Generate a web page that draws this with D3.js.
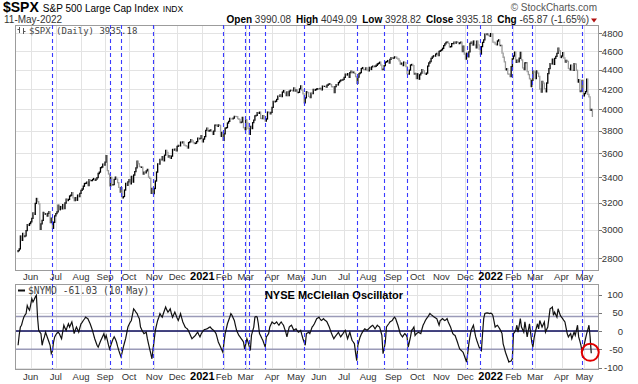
<!DOCTYPE html>
<html>
<head>
<meta charset="utf-8">
<script src="https://cdn.jsdelivr.net/npm/d3@7.9.0/dist/d3.min.js"></script>
<style>
  body { margin: 0; background: #fff; }
  svg { display: block; font-family: "Liberation Sans", Arial, sans-serif; }
</style>
</head>
<body>
<svg id="chart" width="638" height="384"></svg>
<script>
// trading calendar
const firstDay = "2020-05-14";
const lastDay = "2022-05-11";
const holidays = ["2020-05-25", "2020-07-03", "2020-09-07", "2020-11-26", "2020-12-25",
  "2021-01-01", "2021-01-18", "2021-02-15", "2021-04-02", "2021-05-31", "2021-07-05",
  "2021-09-06", "2021-11-25", "2021-12-24", "2022-01-17", "2022-02-21", "2022-04-15"];

// S&P 500 daily closes, one row per month
const spxClose = [
  2852, 2864, 2954, 2923, 2972, 2949, 2955, 2992, 3036, 3030, 3044,
  3056, 3081, 3122, 3112, 3194, 3232, 3207, 3190, 3002, 3041, 3067, 3125, 3113, 3115, 3098, 3118, 3131, 3050, 3084, 3009, 3053, 3100,
  3116, 3130, 3180, 3146, 3170, 3152, 3185, 3155, 3197, 3227, 3216, 3225, 3251, 3257, 3277, 3236, 3216, 3239, 3218, 3258, 3246, 3271,
  3295, 3306, 3328, 3350, 3352, 3360, 3333, 3380, 3373, 3373, 3382, 3390, 3375, 3385, 3397, 3431, 3443, 3479, 3485, 3508, 3500,
  3526, 3580, 3455, 3427, 3331, 3399, 3340, 3341, 3384, 3401, 3385, 3357, 3319, 3282, 3316, 3237, 3247, 3298, 3351, 3336, 3363,
  3381, 3348, 3408, 3361, 3419, 3447, 3477, 3534, 3512, 3489, 3483, 3484, 3427, 3443, 3436, 3453, 3465, 3401, 3391, 3271, 3310, 3270,
  3310, 3370, 3443, 3510, 3509, 3550, 3545, 3573, 3537, 3585, 3627, 3610, 3568, 3582, 3558, 3577, 3635, 3630, 3638, 3622,
  3662, 3669, 3666, 3699, 3692, 3702, 3673, 3668, 3663, 3647, 3695, 3702, 3722, 3709, 3695, 3687, 3690, 3703, 3735, 3727, 3732, 3756,
  3701, 3726, 3748, 3804, 3825, 3799, 3801, 3810, 3795, 3768, 3798, 3852, 3853, 3841, 3855, 3850, 3751, 3787, 3714,
  3774, 3826, 3830, 3872, 3887, 3916, 3911, 3910, 3917, 3934, 3933, 3932, 3914, 3906, 3877, 3881, 3925, 3829, 3811,
  3901, 3871, 3820, 3768, 3842, 3821, 3875, 3899, 3939, 3943, 3969, 3963, 3974, 3915, 3913, 3940, 3911, 3889, 3910, 3975, 3971, 3959, 3973,
  4020, 4078, 4074, 4080, 4097, 4129, 4128, 4142, 4125, 4170, 4185, 4163, 4135, 4173, 4135, 4180, 4188, 4187, 4183, 4211, 4181,
  4193, 4165, 4168, 4202, 4233, 4189, 4152, 4063, 4113, 4174, 4164, 4128, 4116, 4160, 4156, 4197, 4189, 4196, 4201, 4204,
  4202, 4208, 4192, 4230, 4227, 4227, 4220, 4239, 4247, 4255, 4246, 4224, 4222, 4166, 4224, 4246, 4242, 4266, 4281, 4291, 4291, 4298,
  4320, 4352, 4344, 4358, 4320, 4370, 4385, 4370, 4375, 4360, 4327, 4259, 4323, 4359, 4368, 4412, 4422, 4401, 4400, 4419, 4395,
  4387, 4423, 4402, 4429, 4437, 4433, 4436, 4447, 4460, 4468, 4479, 4448, 4400, 4406, 4442, 4480, 4486, 4497, 4470, 4509, 4529, 4523,
  4524, 4537, 4535, 4521, 4514, 4493, 4459, 4469, 4443, 4481, 4474, 4433, 4358, 4354, 4396, 4449, 4455, 4443, 4353, 4360, 4308,
  4357, 4301, 4346, 4364, 4400, 4391, 4361, 4351, 4364, 4438, 4471, 4487, 4520, 4537, 4549, 4545, 4567, 4575, 4551, 4597, 4605,
  4614, 4631, 4661, 4680, 4697, 4702, 4686, 4646, 4650, 4683, 4683, 4701, 4689, 4704, 4698, 4683, 4691, 4701, 4595, 4655, 4567,
  4513, 4577, 4538, 4592, 4687, 4701, 4668, 4712, 4669, 4635, 4710, 4669, 4621, 4568, 4650, 4697, 4726, 4791, 4786, 4793, 4778, 4766,
  4797, 4794, 4701, 4696, 4677, 4670, 4713, 4726, 4660, 4663, 4577, 4533, 4483, 4398, 4410, 4357, 4350, 4327, 4432, 4516,
  4546, 4589, 4477, 4501, 4484, 4522, 4587, 4504, 4419, 4402, 4472, 4476, 4380, 4349, 4305, 4226, 4288, 4385, 4374,
  4306, 4387, 4364, 4329, 4201, 4171, 4278, 4260, 4204, 4173, 4262, 4358, 4412, 4463, 4461, 4512, 4456, 4520, 4543, 4575, 4632, 4602, 4530,
  4546, 4583, 4525, 4481, 4500, 4488, 4413, 4397, 4447, 4393, 4392, 4463, 4460, 4394, 4272, 4297, 4175, 4183, 4288, 4132,
  4155, 4175, 4300, 4147, 4123, 3991, 4001, 3935
];

// NYSE McClellan Oscillator, daily (ends 10 May)
const nymo = [
  -39, -10, 11, 16, 28, 38, 44, 48, 70, 62,
  57, 72, 89, 80, 86, 93, 98, 38, 2, -3,
  -7, -39, -25, -16, -3, -12, -21, -30, -39, -62,
  -55, -30, -16, -10, -6, -3, -7, -14, -21, -2,
  16, 8, 2, 12, 20, 11, 18, 25, 10, -7,
  3, 11, 4, -3, 9, 20, 24, 29, 33, 38,
  36, 34, 27, 20, 11, 2, -10, -21, -30, -39,
  -44, -36, -28, -21, -14, -7, -21, -12, -25, -38,
  -49, -40, -30, -22, -16, -22, -30, -42, -53, -62,
  -71, -58, -44, -32, -21, -5, 11, 18, 24, 29,
  45, 61, 57, 52, 48, 40, 34, 11, 4, -2,
  -7, -5, -3, -21, -35, -49, -62, -76, -49, -22,
  2, 16, 29, 38, 48, 42, 38, 48, 57, 66,
  58, 52, 56, 61, 48, 38, 45, 52, 44, 36,
  29, 38, 48, 36, 25, 18, 11, 8, 6, 0,
  -7, -14, -21, -18, -15, -12, -7, -3, -10, -16,
  -8, -3, 2, 4, 5, 6, 8, 10, 11, 7,
  4, 2, -2, -7, -18, -30, -37, -44, -51, -58,
  -30, -7, 6, 20, 29, 38, 48, 43, 36, 29,
  15, 2, -5, -12, -16, -21, -25, -30, -49, -35,
  -21, -30, -42, -53, -12, 0, 11, 38, 40, 38,
  20, -7, -13, -20, -26, -35, -44, -16, -12, -7,
  11, 18, 25, 22, 20, 22, 25, 20, 16, 21,
  25, 20, 16, 6, -3, -16, -2, 11, 14, 16,
  9, 2, 4, 6, 1, -3, -1, 2, -10, -21,
  -30, -39, -7, -5, -3, -7, 2, 11, 15, 20,
  27, 34, 36, 38, 33, 29, 31, 34, 30, 28,
  25, 18, 11, 2, -7, -14, -21, -16, -12, -8,
  -3, -10, -16, -11, -7, -2, 2, -10, -21, -12,
  -3, -15, -26, -30, -35, -60, -81, -39, -27, -16,
  -9, -3, 2, 6, 4, 2, 5, 8, 11, 14,
  16, 11, 6, 11, 16, 13, 11, 0, -12, -62,
  -48, -30, 11, 16, 20, 25, 27, 29, 34, 38,
  34, 25, 16, 5, -7, -12, -16, -11, -7, -10,
  -16, -44, -30, -16, 2, 6, 11, -12, -8, -5,
  -3, -5, -7, 5, 16, 22, 29, 34, 38, 43,
  48, 45, 43, 40, 38, 36, 34, 25, 16, 29,
  31, 34, 31, 29, 31, 34, 25, 18, 11, 2,
  -7, -10, -12, -21, -30, -40, -49, -52, -55, -58,
  -67, -76, -85, -62, -35, -15, 2, 9, 16, 0,
  -16, -26, -35, -44, -48, -53, -7, 34, 48, 49,
  50, 49, 48, 49, 48, 43, 27, 11, 14, 16,
  11, 6, 0, -7, -35, -46, -58, -67, -76, -85,
  -83, -82, -76, -7, -3, 2, 16, -3, 15, 34,
  11, 4, -3, 25, 5, -16, 2, 20, -5, -30,
  -44, -20, -3, 8, 20, 6, 29, 20, 11, 18,
  25, -3, 4, 11, 36, 61, 63, 66, 43, 52,
  45, 38, 61, 52, 43, 38, 34, 29, 25, 9,
  -7, -16, -11, -7, -21, -12, -3, -12, 2, 16,
  -16, -27, -39, -58, -49, -35, -21, -7, 4, 16,
  -16, -61.03
];

// vertical signal markers
const signalDates = ["2020-06-26", "2020-09-08", "2020-09-22", "2020-10-30", "2021-01-29",
  "2021-02-26", "2021-03-04", "2021-03-24", "2021-05-12", "2021-07-19", "2021-08-20",
  "2021-09-20", "2021-12-02", "2021-12-20", "2022-01-31", "2022-02-24", "2022-04-28"];

const priceTicks = [2800, 3000, 3200, 3400, 3600, 3800, 4000, 4200, 4400, 4600, 4800];
const nymoTicks = [-100, -50, 0, 50, 100];
const nymoLevels = [40, -50];
const monthNames = ["Jan", "Feb", "Mar", "Apr", "May", "Jun", "Jul", "Aug", "Sep", "Oct", "Nov", "Dec"];

const parse = d3.utcParse("%Y-%m-%d");
const fmt = d3.utcFormat("%Y-%m-%d");
const days = d3.utcDays(parse(firstDay), d3.utcDay.offset(parse(lastDay), 1))
  .filter(d => d.getUTCDay() % 6 !== 0 && !holidays.includes(fmt(d)));
const dayIndex = new Map(days.map((d, i) => [fmt(d), i]));

const svg = d3.select("#chart");
const L = 15, R = 598;
const top1 = 25, bot1 = 270, top2 = 284, bot2 = 369;

const x = d3.scaleLinear().domain([-2.7, 506.9]).range([L, R]);
const yP = d3.scaleLog().domain([2723, 4897]).range([bot1, top1]);
const yN = d3.scaleLinear().domain([-104, 129]).range([bot2, top2]);

// first trading day of each month
const monthStarts = [];
days.forEach((d, i) => {
  if (i > 0 && d.getUTCMonth() !== days[i - 1].getUTCMonth()) monthStarts.push(i);
});

const grid = "#e3e3e3";

function panelGrid(yScale, ticks, y0, y1) {
  const g = svg.append("g");
  g.selectAll("line.h").data(ticks).join("line").attr("class", "h")
    .attr("x1", L).attr("x2", R)
    .attr("y1", d => Math.round(yScale(d)) + 0.5).attr("y2", d => Math.round(yScale(d)) + 0.5)
    .attr("stroke", grid);
  g.selectAll("line.v").data(monthStarts).join("line").attr("class", "v")
    .attr("x1", d => Math.round(x(d)) + 0.5).attr("x2", d => Math.round(x(d)) + 0.5)
    .attr("y1", y0).attr("y2", y1)
    .attr("stroke", grid);
}
panelGrid(yP, priceTicks, top1, bot1);
panelGrid(yN, nymoTicks, top2, bot2);

// price bars: open at previous close
svg.append("g").selectAll("line").data(spxClose).join("line")
  .attr("x1", (d, i) => x(i)).attr("x2", (d, i) => x(i))
  .attr("y1", (d, i) => yP(i ? spxClose[i - 1] : d) + (i ? 0 : 1))
  .attr("y2", d => yP(d))
  .attr("stroke", (d, i) => (i && d < spxClose[i - 1]) ? "#9a9a9a" : "#000")
  .attr("stroke-width", 1.3)
  .attr("stroke-linecap", "square");

// NYMO reference lines
svg.append("g").selectAll("line").data(nymoLevels).join("line")
  .attr("x1", L).attr("x2", R)
  .attr("y1", d => yN(d)).attr("y2", d => yN(d))
  .attr("stroke", "#9a9ab8").attr("stroke-width", 1.6);
svg.append("line")
  .attr("x1", L).attr("x2", R).attr("y1", yN(0)).attr("y2", yN(0))
  .attr("stroke", "#0a0a5a").attr("stroke-width", 1.4);

// NYMO line
svg.append("path")
  .datum(nymo)
  .attr("d", d3.line().x((d, i) => x(i)).y(d => yN(d)))
  .attr("fill", "none").attr("stroke", "#111").attr("stroke-width", 1.2);

// panel frames
[[top1, bot1], [top2, bot2]].forEach(([a, b]) => {
  svg.append("rect").attr("x", L + 0.5).attr("y", a + 0.5)
    .attr("width", R - L).attr("height", b - a)
    .attr("fill", "none").attr("stroke", "#9c9c9c");
});

// signal lines through both panels
svg.append("g").selectAll("line").data(signalDates).join("line")
  .attr("x1", d => Math.round(x(dayIndex.get(d))) + 0.5)
  .attr("x2", d => Math.round(x(dayIndex.get(d))) + 0.5)
  .attr("y1", top1).attr("y2", bot2)
  .attr("stroke", "#3a3aff").attr("stroke-width", 1.1)
  .attr("stroke-dasharray", "4,3");

// right axes
function rightAxis(yScale, ticks) {
  const g = svg.append("g");
  g.selectAll("line").data(ticks).join("line")
    .attr("x1", R + 1).attr("x2", R + 4)
    .attr("y1", d => Math.round(yScale(d)) + 0.5).attr("y2", d => Math.round(yScale(d)) + 0.5)
    .attr("stroke", "#777");
  g.selectAll("text").data(ticks).join("text")
    .attr("x", 623).attr("y", d => yScale(d) + 3.5)
    .attr("text-anchor", "end").attr("font-size", 9.5).attr("fill", "#333")
    .text(d => d);
}
rightAxis(yP, priceTicks);
rightAxis(yN, nymoTicks);

// month labels under each panel
[280, 380].forEach(yy => {
  svg.append("g").selectAll("text").data(monthStarts).join("text")
    .attr("x", d => x(d)).attr("y", yy)
    .attr("text-anchor", "middle")
    .attr("font-size", d => days[d].getUTCMonth() === 0 ? 11 : 9.5)
    .attr("font-weight", d => days[d].getUTCMonth() === 0 ? "bold" : "normal")
    .attr("fill", d => days[d].getUTCMonth() === 0 ? "#000" : "#333")
    .text(d => days[d].getUTCMonth() === 0 ? days[d].getUTCFullYear() : monthNames[days[d].getUTCMonth()]);
});

// red circle on latest reading
const lastI = nymo.length - 1;
svg.append("circle")
  .attr("cx", x(lastI) - 1).attr("cy", yN(nymo[lastI]) - 1).attr("r", 8.5)
  .attr("fill", "none").attr("stroke", "#e00000").attr("stroke-width", 2);

// header
const h1 = svg.append("text").attr("x", 3).attr("y", 12);
h1.append("tspan").attr("font-size", 14).attr("font-weight", "bold").text("$SPX");
h1.append("tspan").attr("font-size", 10).attr("dx", 4).text("S&P 500 Large Cap Index");
h1.append("tspan").attr("font-size", 8.5).attr("dx", 4).text("INDX");

svg.append("text").attr("x", 4).attr("y", 22.5).attr("font-size", 10).attr("fill", "#333")
  .text("11-May-2022");

svg.append("text").attr("x", 597).attr("y", 11).attr("text-anchor", "end")
  .attr("font-size", 10).attr("fill", "#555").text("\u00a9 StockCharts.com");

const quote = [["Open", "3990.08"], ["High", "4049.09"], ["Low", "3928.82"], ["Close", "3935.18"], ["Chg", "-65.87 (-1.65%)"]];
const h2 = svg.append("text").attr("x", 589).attr("y", 22.5).attr("text-anchor", "end").attr("font-size", 10);
quote.forEach(([k, v], i) => {
  h2.append("tspan").attr("font-weight", "bold").attr("dx", i ? 5 : 0).text(k);
  h2.append("tspan").attr("fill", "#333").text(" " + v);
});
svg.append("path").attr("d", "M591,18.5 L597,18.5 L594,22.5 Z").attr("fill", "#b01010");

// legends inside panels
const mono = "'DejaVu Sans Mono', 'Liberation Mono', monospace";
const ico = svg.append("g").attr("stroke", "#555").attr("stroke-width", 1);
ico.append("line").attr("x1", 19.5).attr("x2", 19.5).attr("y1", 27).attr("y2", 33);
ico.append("line").attr("x1", 17.5).attr("x2", 19.5).attr("y1", 29.5).attr("y2", 29.5);
ico.append("line").attr("x1", 23.5).attr("x2", 23.5).attr("y1", 28).attr("y2", 34);
ico.append("line").attr("x1", 23.5).attr("x2", 25.5).attr("y1", 31.5).attr("y2", 31.5);
svg.append("text").attr("x", 29).attr("y", 34).attr("font-family", mono)
  .attr("font-size", 9).attr("fill", "#444").text("$SPX (Daily) 3935.18");

svg.append("line").attr("x1", 18).attr("x2", 25).attr("y1", 290.5).attr("y2", 290.5)
  .attr("stroke", "#111").attr("stroke-width", 2);
svg.append("text").attr("x", 28).attr("y", 294).attr("font-family", mono)
  .attr("font-size", 9.6).attr("fill", "#444").text("$NYMO -61.03 (10 May)");

svg.append("text").attr("x", 334).attr("y", 298.5).attr("text-anchor", "middle")
  .attr("font-size", 11).attr("font-weight", "bold").attr("fill", "#000")
  .text("NYSE McClellan Oscillator");
</script>
</body>
</html>
